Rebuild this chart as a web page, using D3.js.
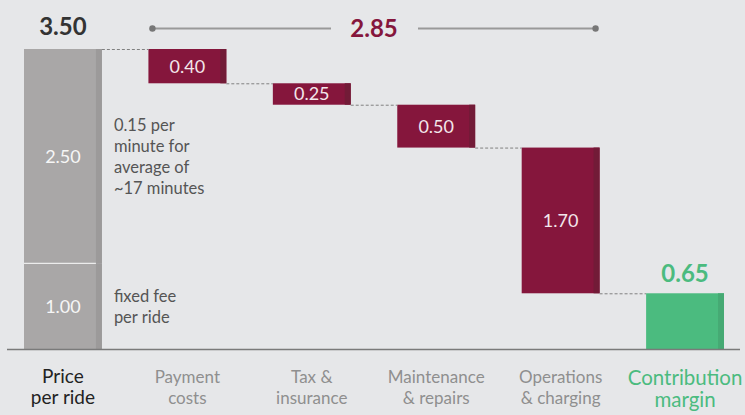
<!DOCTYPE html>
<html>
<head>
<meta charset="utf-8">
<script src="https://cdn.jsdelivr.net/npm/d3@7"></script>
<style>
  html, body { margin: 0; padding: 0; background: #e6e7e9; }
  svg { display: block; font-family: Lato, "Noto Sans", sans-serif; }
</style>
</head>
<body>
<div id="chart"></div>
<script>
// data
const categories = ["Price per ride", "Payment costs", "Tax & insurance", "Maintenance & repairs", "Operations & charging", "Contribution margin"];
const categoryLines = [["Price", "per ride"], ["Payment", "costs"], ["Tax &", "insurance"], ["Maintenance", "& repairs"], ["Operations", "& charging"], ["Contribution", "margin"]];
const priceTotal = 3.50;
const priceParts = [1.00, 2.50];
const priceNotes = [["fixed fee", "per ride"], ["0.15 per", "minute for", "average of", "~17 minutes"]];
const costs = [0.40, 0.25, 0.50, 1.70];
const margin = 0.65;
const costTotal = 2.85;

const W = 745, H = 415;
const COLORS = {
  bg: "#e6e7e9",
  grey: "#a9a7a7", greyEdge: "#9c9a9a",
  red: "#85163c", redEdge: "#721b37",
  green: "#4bbb7f", greenEdge: "#46aa74",
  axis: "#7a7a7a"
};

const svg = d3.select("#chart").append("svg")
  .attr("width", W).attr("height", H);

const x = d3.scaleBand()
  .domain(categories)
  .range([24, 724])
  .paddingInner(0.374)
  .paddingOuter(0);

const y = d3.scaleLinear()
  .domain([0, 3.5])
  .range([349, 49]);

const bw = x.bandwidth();
const edge = 6;

// build waterfall segments
let level = priceTotal;
const costBars = costs.map((v, i) => {
  const b = { cat: categories[i + 1], top: level, bottom: level - v, value: v };
  level -= v;
  return b;
});

function drawBar(cat, top, bottom, fill, edgeFill) {
  svg.append("rect")
    .attr("x", x(cat)).attr("y", y(top))
    .attr("width", bw).attr("height", y(bottom) - y(top))
    .attr("fill", fill);
  svg.append("rect")
    .attr("x", x(cat) + bw - edge).attr("y", y(top))
    .attr("width", edge).attr("height", y(bottom) - y(top))
    .attr("fill", edgeFill);
}

// price bar, stacked
let base = 0;
priceParts.forEach((v, i) => {
  drawBar(categories[0], base + v, base, COLORS.grey, COLORS.greyEdge);
  svg.append("text")
    .attr("x", x(categories[0]) + bw / 2)
    .attr("y", y(base + v / 2))
    .attr("dy", "0.36em")
    .attr("text-anchor", "middle")
    .attr("fill", "#f6f6f6")
    .attr("font-size", 18)
    .text(v.toFixed(2));
  const lines = priceNotes[i];
  const mid = y(base + v / 2);
  const lh = 21;
  svg.append("g").selectAll("text")
    .data(lines).join("text")
    .attr("x", x(categories[0]) + bw + 12)
    .attr("y", (d, j) => mid + (j - (lines.length - 1) / 2) * lh)
    .attr("dy", "0.36em")
    .attr("fill", "#555")
    .attr("font-size", 16.5)
    .text(d => d);
  base += v;
});
// divider between price parts
svg.append("line")
  .attr("x1", x(categories[0])).attr("x2", x(categories[0]) + bw - edge)
  .attr("y1", y(priceParts[0])).attr("y2", y(priceParts[0]))
  .attr("stroke", "#ececec").attr("stroke-width", 1.2);

// cost bars
costBars.forEach(b => {
  drawBar(b.cat, b.top, b.bottom, COLORS.red, COLORS.redEdge);
  svg.append("text")
    .attr("x", x(b.cat) + bw / 2)
    .attr("y", y((b.top + b.bottom) / 2))
    .attr("dy", "0.36em")
    .attr("text-anchor", "middle")
    .attr("fill", "#f3e6eb")
    .attr("font-size", 18)
    .text(b.value.toFixed(2));
});

// margin bar
drawBar(categories[5], margin, 0, COLORS.green, COLORS.greenEdge);
svg.append("text")
  .attr("x", x(categories[5]) + bw / 2)
  .attr("y", y(margin) - 11)
  .attr("text-anchor", "middle")
  .attr("fill", COLORS.green)
  .attr("font-size", 24)
  .attr("font-weight", 700)
  .text(margin.toFixed(2));

// price total label
svg.append("text")
  .attr("x", x(categories[0]) + bw / 2)
  .attr("y", y(priceTotal) - 14)
  .attr("text-anchor", "middle")
  .attr("fill", "#333")
  .attr("font-size", 24)
  .attr("font-weight", 700)
  .text(priceTotal.toFixed(2));

// dotted connectors
const levels = [priceTotal].concat(costBars.map(b => b.bottom));
for (let i = 0; i < categories.length - 1; i++) {
  svg.append("line")
    .attr("x1", x(categories[i]) + bw).attr("x2", x(categories[i + 1]))
    .attr("y1", y(levels[i]) + 0.5).attr("y2", y(levels[i]) + 0.5)
    .attr("stroke", "#808080").attr("stroke-width", 1)
    .attr("stroke-dasharray", "3,2");
}

// baseline
svg.append("line")
  .attr("x1", 7).attr("x2", 740)
  .attr("y1", y(0) + 0.5).attr("y2", y(0) + 0.5)
  .attr("stroke", COLORS.axis).attr("stroke-width", 1.5);

// cost bracket
const bx1 = x(categories[1]) + 4, bx2 = x(categories[4]) + bw - 4, by = 28.5;
const bmid = (bx1 + bx2) / 2;
svg.append("line").attr("x1", bx1).attr("x2", bmid - 43).attr("y1", by).attr("y2", by)
  .attr("stroke", "#999").attr("stroke-width", 2);
svg.append("line").attr("x1", bmid + 44).attr("x2", bx2).attr("y1", by).attr("y2", by)
  .attr("stroke", "#999").attr("stroke-width", 2);
[bx1, bx2].forEach(cx => svg.append("circle").attr("cx", cx).attr("cy", by).attr("r", 3.2).attr("fill", "#777"));
svg.append("text")
  .attr("x", bmid).attr("y", by).attr("dy", "0.36em")
  .attr("text-anchor", "middle")
  .attr("fill", COLORS.red)
  .attr("font-size", 24)
  .attr("font-weight", 700)
  .text(costTotal.toFixed(2));

// category labels
categories.forEach((c, i) => {
  const first = i === 0, last = i === categories.length - 1;
  svg.append("g").selectAll("text")
    .data(categoryLines[i]).join("text")
    .attr("x", x(c) + bw / 2)
    .attr("y", (d, j) => (last ? 385 : 383) + j * (last ? 22 : 21))
    .attr("text-anchor", "middle")
    .attr("fill", first ? "#222" : last ? COLORS.green : "#8f8f8f")
    .attr("font-size", first ? 19 : last ? 20.5 : 17)
    .text(d => d);
});
</script>
</body>
</html>
